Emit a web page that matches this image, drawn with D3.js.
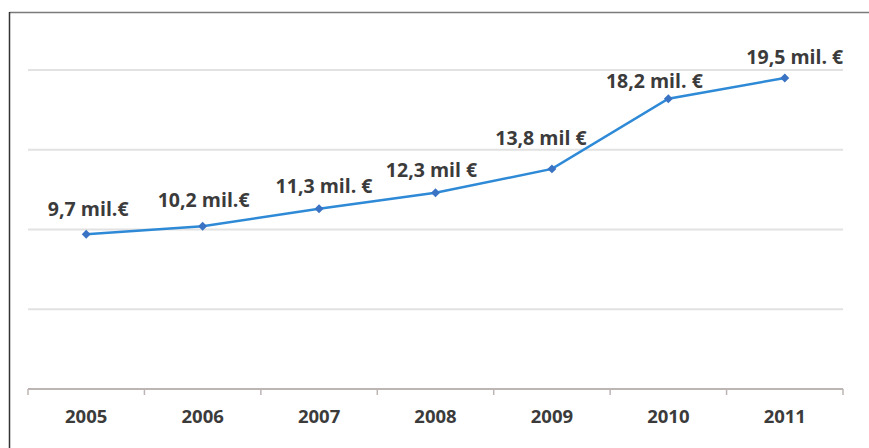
<!DOCTYPE html>
<html>
<head>
<meta charset="utf-8">
<script src="https://cdn.jsdelivr.net/npm/d3@7"></script>
<style>
  body { margin: 0; background: #fff; }
</style>
</head>
<body>
<div id="chart"></div>
<script>
const years = ["2005", "2006", "2007", "2008", "2009", "2010", "2011"];
const values = [9.7, 10.2, 11.3, 12.3, 13.8, 18.2, 19.5];
const labels = ["9,7 mil.€", "10,2 mil.€", "11,3 mil. €", "12,3 mil €", "13,8 mil €", "18,2 mil. €", "19,5 mil. €"];
const yTicks = [0, 5, 10, 15, 20];

function init() {
    const W = 869, H = 448;
    const margin = { top: 70, right: 26, bottom: 59, left: 28 },
        width = W - margin.left - margin.right,
        height = H - margin.top - margin.bottom;

    const svg = d3.select("#chart")
        .append("svg")
        .attr("width", W)
        .attr("height", H);

    // frame: only top and left edges are visible
    svg.append("line")
        .attr("x1", 9.5).attr("x2", W).attr("y1", 12.5).attr("y2", 12.5)
        .attr("stroke", "#7a7a7a").attr("stroke-width", 1.5);
    svg.append("line")
        .attr("x1", 9.5).attr("x2", 9.5).attr("y1", 12).attr("y2", H)
        .attr("stroke", "#333").attr("stroke-width", 1.5);

    const g = svg.append("g")
        .attr("transform", `translate(${margin.left},${margin.top})`);

    const x = d3.scaleBand()
        .domain(years)
        .range([0, width]);

    const y = d3.scaleLinear()
        .domain([0, 20])
        .range([height, 0]);

    // gridlines
    g.append("g")
        .selectAll("line")
        .data(yTicks.filter(d => d > 0))
        .join("line")
        .attr("x1", 0)
        .attr("x2", width)
        .attr("y1", d => y(d))
        .attr("y2", d => y(d))
        .attr("stroke", "#e2e2e2")
        .attr("stroke-width", 2);

    // x axis with ticks at band edges
    const xAxis = g.append("g")
        .attr("transform", `translate(0,${height})`);
    xAxis.append("line")
        .attr("x1", 0).attr("x2", width)
        .attr("stroke", "#bdb5b3").attr("stroke-width", 2);
    xAxis.selectAll(".tick-mark")
        .data(years.concat(["end"]))
        .join("line")
        .attr("class", "tick-mark")
        .attr("x1", (d, i) => i < years.length ? x(d) : width)
        .attr("x2", (d, i) => i < years.length ? x(d) : width)
        .attr("y1", 0).attr("y2", 6)
        .attr("stroke", "#bdb5b3").attr("stroke-width", 1.5);
    xAxis.selectAll("text")
        .data(years)
        .join("text")
        .attr("x", d => x(d) + x.bandwidth() / 2)
        .attr("y", 34)
        .attr("text-anchor", "middle")
        .attr("font-family", "Open Sans, sans-serif")
        .attr("font-weight", 700)
        .attr("font-size", "18.5px")
        .attr("fill", "#3b3b3b")
        .text(d => d);

    const data = years.map((yr, i) => ({ year: yr, value: values[i], label: labels[i] }));
    const cx = d => x(d.year) + x.bandwidth() / 2;

    g.append("path")
        .datum(data)
        .attr("fill", "none")
        .attr("stroke", "#2e8ad6")
        .attr("stroke-width", 2.5)
        .attr("d", d3.line().x(cx).y(d => y(d.value)));

    g.selectAll(".marker")
        .data(data)
        .join("path")
        .attr("class", "marker")
        .attr("d", d3.symbol().type(d3.symbolSquare).size(40))
        .attr("transform", d => `translate(${cx(d)},${y(d.value)}) rotate(45)`)
        .attr("fill", "#3a72c4");

    // label nudges (dx, dy relative to point)
    const nudge = [[2, -18], [1, -19], [5, -16], [-4, -16], [-11, -24], [-14, -11], [10, -14]];

    g.selectAll(".lbl")
        .data(data)
        .join("text")
        .attr("class", "lbl")
        .attr("x", (d, i) => cx(d) + nudge[i][0])
        .attr("y", (d, i) => y(d.value) + nudge[i][1])
        .attr("text-anchor", "middle")
        .attr("font-family", "Open Sans, sans-serif")
        .attr("font-weight", 700)
        .attr("font-size", "19.5px")
        .attr("fill", "#3b3b3b")
        .text(d => d.label);
}

window.onload = init;
</script>
</body>
</html>
